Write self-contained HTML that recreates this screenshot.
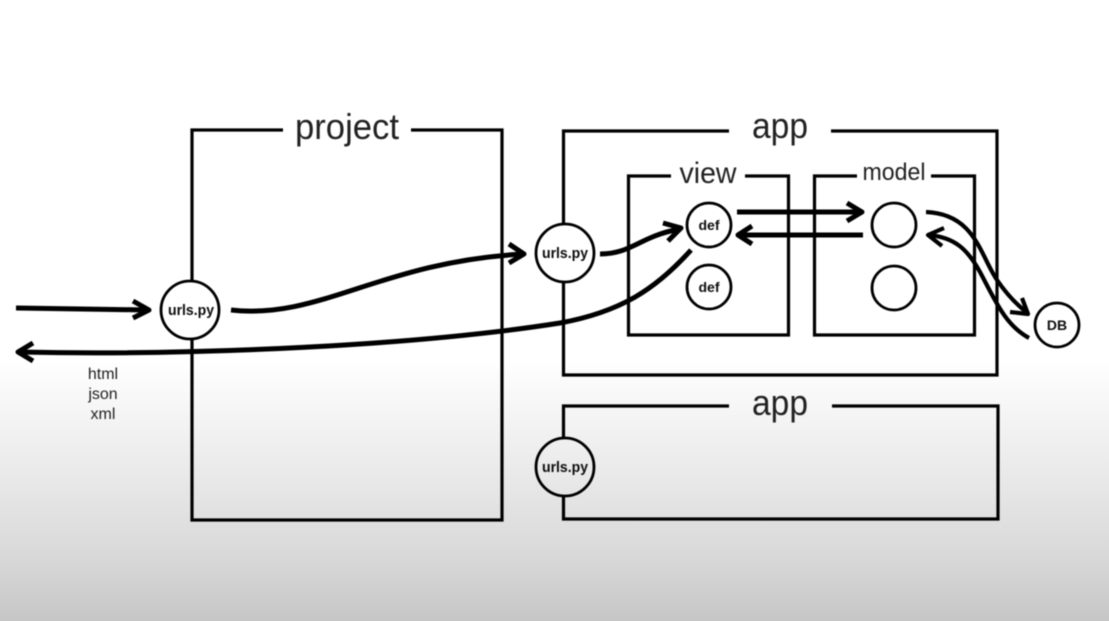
<!DOCTYPE html>
<html>
<head>
<meta charset="utf-8">
<style>
html,body{margin:0;padding:0;width:1109px;height:621px;overflow:hidden;background:#fff}
svg{display:block}
text{font-family:"Liberation Sans",sans-serif;fill:#222}
.t{text-anchor:middle}
.b{font-weight:bold;text-anchor:middle;fill:#0c0c0c}
.box{fill:none;stroke:#000;stroke-width:3.2}
.c{fill:none;stroke:#000;stroke-width:2.8}
.a{fill:none;stroke:#000;stroke-width:5;stroke-linejoin:round}
.d{fill:none;stroke:#000;stroke-width:4.2;stroke-linejoin:round}
</style>
</head>
<body>
<svg width="1109" height="621" viewBox="0 0 1109 621" xmlns="http://www.w3.org/2000/svg">
<defs>
<linearGradient id="g" x1="0" y1="0" x2="0" y2="1">
<stop offset="0" stop-color="#ffffff"/>
<stop offset="0.58" stop-color="#ffffff"/>
<stop offset="0.75" stop-color="#ebebeb"/>
<stop offset="0.9" stop-color="#d8d8d8"/>
<stop offset="1" stop-color="#c6c6c6"/>
</linearGradient>
<filter id="s" x="-2%" y="-2%" width="104%" height="104%"><feGaussianBlur stdDeviation="0.4"/></filter>
</defs>
<rect width="1109" height="621" fill="url(#g)"/>
<g filter="url(#s)">

<!-- boxes -->
<path class="box" d="M283 130H192V281M192 340V520H502V130H411"/>
<path class="box" d="M729 131H563.500V224M563.500 283V375H997V131H831"/>
<path class="box" d="M671 176H628.500V335H788.500V176H745"/>
<path class="box" d="M857 176H814.500V335H974.500V176H931"/>
<path class="box" d="M729 406H563.500V437M563.500 496V519H998V406H832"/>

<!-- circles -->
<circle class="c" cx="190" cy="310" r="29"/>
<circle class="c" cx="565" cy="253" r="29"/>
<circle class="c" cx="565" cy="467" r="29"/>
<circle class="c" cx="709" cy="225" r="22"/>
<circle class="c" cx="709" cy="287" r="22"/>
<circle class="c" cx="894" cy="225" r="22"/>
<circle class="c" cx="894" cy="288" r="22"/>
<circle class="c" cx="1057" cy="325" r="22"/>

<!-- arrows -->
<path class="a" d="M16 308L147 310"/>
<path class="a" d="M133 301L149 310L133 318"/>
<path class="a" d="M19 352C200 356 420 345 560 323C620 312 655 290 691 250"/>
<path class="a" d="M33 343L18 352L33 361"/>
<path class="a" d="M231 310C320 320 380 262 523 254"/>
<path class="a" d="M509 244L524 254L509 263"/>
<path class="a" d="M600 254C632 254 640 236 680 229"/>
<path class="a" d="M663 223L681 228L668 241"/>
<path class="a" d="M737 212H861"/>
<path class="a" d="M847 203L862 212L847 221"/>
<path class="a" d="M863 235H739"/>
<path class="a" d="M752 226L738 235L752 244"/>
<path class="d" d="M926 212C975 214 980 255 997 280C1008 296 1018 306 1028 313"/>
<path class="d" d="M1022 298L1028 314L1010 312"/>
<path class="d" d="M1029 338C1005 325 995 300 980 272C968 250 955 237 928 235"/>
<path class="d" d="M944 228L928 235L942 246"/>

<!-- titles -->
<text class="t" x="347" y="139" font-size="36" textLength="104" lengthAdjust="spacingAndGlyphs">project</text>
<text class="t" x="780" y="138" font-size="36" textLength="56" lengthAdjust="spacingAndGlyphs">app</text>
<text class="t" x="780" y="415" font-size="36" textLength="56" lengthAdjust="spacingAndGlyphs">app</text>
<text class="t" x="708" y="183" font-size="30" textLength="57" lengthAdjust="spacingAndGlyphs">view</text>
<text class="t" x="894" y="180" font-size="24" textLength="63" lengthAdjust="spacingAndGlyphs">model</text>

<text class="t" x="103" y="379" font-size="16">html</text>
<text class="t" x="103" y="399" font-size="16">json</text>
<text class="t" x="103" y="419" font-size="16">xml</text>

<!-- node labels -->
<text class="b" x="191" y="315" font-size="14.500" textLength="46" lengthAdjust="spacingAndGlyphs">urls.py</text>
<text class="b" x="565" y="258" font-size="14.500" textLength="46" lengthAdjust="spacingAndGlyphs">urls.py</text>
<text class="b" x="565" y="472" font-size="14.500" textLength="46" lengthAdjust="spacingAndGlyphs">urls.py</text>
<text class="b" x="709" y="230" font-size="14">def</text>
<text class="b" x="709" y="292" font-size="14">def</text>
<text class="b" x="1057" y="330" font-size="14">DB</text>
</g>
</svg>
</body>
</html>
